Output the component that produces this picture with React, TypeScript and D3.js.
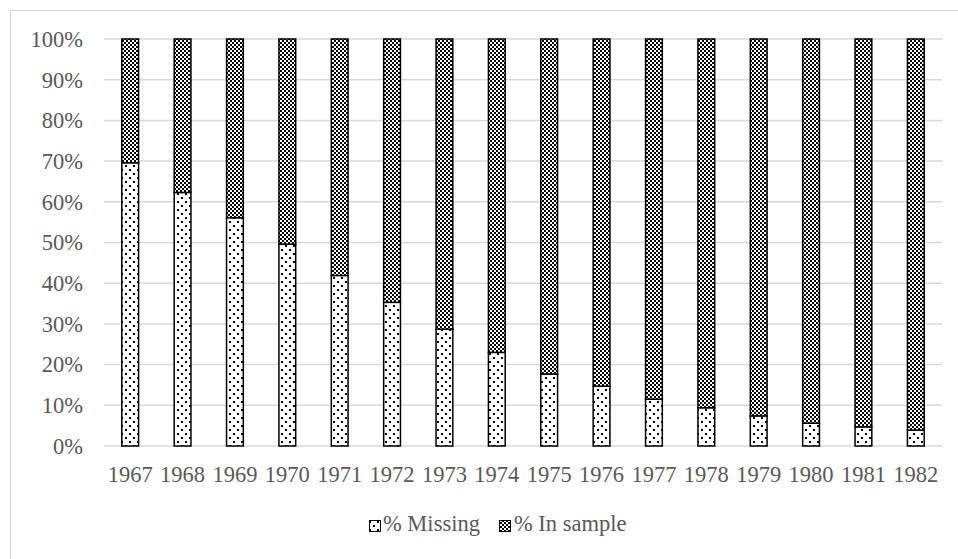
import React from "react";
import * as d3 from "d3";

const years = ["1967","1968","1969","1970","1971","1972","1973","1974","1975","1976","1977","1978","1979","1980","1981","1982"];
const missing = [69.6, 62.3, 56.1, 49.6, 41.9, 35.3, 28.7, 23.0, 17.7, 14.7, 11.5, 9.4, 7.4, 5.6, 4.7, 3.9];
const yTicks = [0, 10, 20, 30, 40, 50, 60, 70, 80, 90, 100];
const seriesNames = ["% Missing", "% In sample"];

const W = 958;
const H = 559;
const FONT = "Liberation Serif, serif";
const TXT = "#595959";
const FS = 22.5;

export default function App() {
  const x = d3.scaleBand<string>().domain(years).range([104, 942]).paddingInner(0.68).paddingOuter(0.34);
  const y = d3.scaleLinear().domain([0, 100]).range([446, 39]);
  const bw = x.bandwidth();
  return (
    <div style={{ position: "fixed", left: 0, top: 0 }}>
      <svg width={W} height={H} style={{ display: "block", background: "#fff" }}>
        <defs>
          <pattern id="dots" patternUnits="userSpaceOnUse" width="8" height="8">
            <rect width="8" height="8" fill="#fff" />
            <rect x="1" y="1" width="2" height="2" fill="#000" />
            <rect x="5" y="5" width="2" height="2" fill="#000" />
          </pattern>
          <pattern id="checks" patternUnits="userSpaceOnUse" width="4" height="4">
            <rect width="4" height="4" fill="#000" />
            <rect x="0" y="0" width="2" height="2" fill="#fff" />
            <rect x="2" y="2" width="2" height="2" fill="#fff" />
          </pattern>
        </defs>
        <rect x={10.5} y={10.5} width={1000} height={1000} fill="none" stroke="#d9d9d9" strokeWidth={1} />
        {yTicks.map((t) => (
          <g key={t}>
            <line x1={104} x2={942} y1={y(t)} y2={y(t)} stroke="#d9d9d9" strokeWidth={1.5} />
            <text x={83} y={y(t)} dy="0.35em" textAnchor="end" fontFamily={FONT} fontSize={FS} fill={TXT}>
              {t}%
            </text>
          </g>
        ))}
        {years.map((yr, i) => {
          const bx = x(yr)!;
          return (
            <g key={yr}>
              <rect x={bx} y={y(missing[i])} width={bw} height={y(0) - y(missing[i])} fill="url(#dots)" stroke="#000" strokeWidth={1.5} />
              <rect x={bx} y={y(100)} width={bw} height={y(missing[i]) - y(100)} fill="url(#checks)" stroke="#000" strokeWidth={1.5} />
              <text x={bx + bw / 2} y={482} textAnchor="middle" fontFamily={FONT} fontSize={FS} fill={TXT}>
                {yr}
              </text>
            </g>
          );
        })}
        <g>
          <rect x={369.5} y={520.5} width={11} height={11} fill="url(#dots)" stroke="#000" strokeWidth={1} />
          <text x={383} y={531} fontFamily={FONT} fontSize={FS} fill={TXT}>{seriesNames[0]}</text>
          <rect x={499.5} y={520.5} width={11} height={11} fill="url(#checks)" stroke="#000" strokeWidth={1} />
          <text x={514} y={531} fontFamily={FONT} fontSize={FS} fill={TXT}>{seriesNames[1]}</text>
        </g>
      </svg>
    </div>
  );
}
